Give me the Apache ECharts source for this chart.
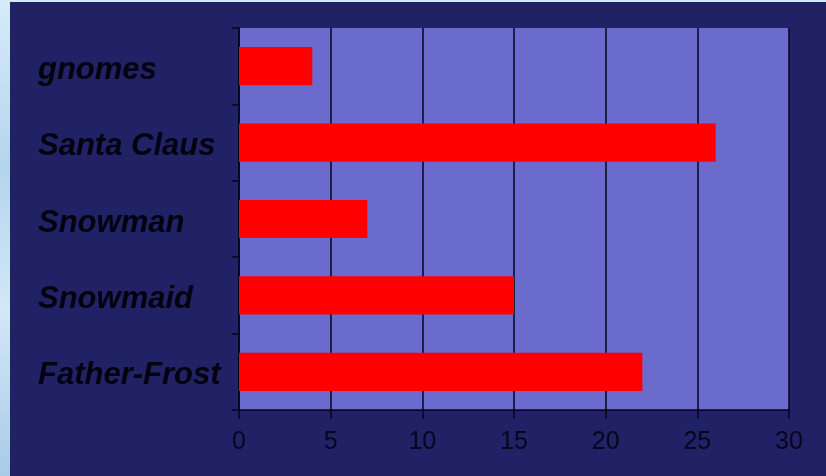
<!DOCTYPE html>
<html>
<head>
<meta charset="utf-8">
<script src="https://cdn.jsdelivr.net/npm/echarts@6/dist/echarts.min.js"></script>
<style>
  html, body { margin: 0; padding: 0; width: 826px; height: 476px; overflow: hidden;
    background: linear-gradient(180deg, #d6ebfa 0%, #b4d5ee 35%, #d2e7f7 65%, #a9cbe8 100%); }
  #chart { position: absolute; left: 10px; top: 2px; width: 816px; height: 474px; background: #212166; }
</style>
</head>
<body>
<div id="chart"></div>
<script>
const categories = ['gnomes', 'Santa Claus', 'Snowman', 'Snowmaid', 'Father-Frost'];
const values = [4, 26, 7, 15, 22];
const xTicks = [0, 5, 10, 15, 20, 25, 30];

const chart = echarts.init(document.getElementById('chart'));
chart.setOption({
  backgroundColor: 'transparent',
  animation: false,
  grid: {
    left: 229, right: 37, top: 26, bottom: 66,
    show: true, backgroundColor: '#6b6bcd', borderWidth: 0
  },
  xAxis: {
    type: 'value', min: xTicks[0], max: xTicks[xTicks.length - 1], interval: 5,
    axisLine: { show: true, lineStyle: { color: '#05051a', width: 1.5 } },
    axisTick: { show: true, length: 9, lineStyle: { color: '#05051a', width: 1.5 } },
    splitLine: { show: true, lineStyle: { color: '#05051a', width: 1.5 } },
    axisLabel: { color: '#06061c', fontFamily: 'Liberation Sans, Arial, sans-serif', fontSize: 25, margin: 20 }
  },
  yAxis: {
    type: 'category', data: categories, inverse: true,
    axisLine: { show: true, lineStyle: { color: '#05051a', width: 1.5 } },
    axisTick: { show: true, length: 7, alignWithLabel: false, lineStyle: { color: '#05051a', width: 1.5 } },
    axisLabel: {
      align: 'left', margin: 201,
      formatter: '{a|{value}}',
      rich: {
        a: {
          color: '#03030f', fontFamily: 'Liberation Sans, Arial, sans-serif', fontSize: 31,
          fontWeight: 'bold', fontStyle: 'italic', padding: [8, 0, 0, 0]
        }
      }
    }
  },
  series: [{
    type: 'bar', data: values, barCategoryGap: '50%',
    itemStyle: { color: '#ff0000' }
  }]
});
</script>
</body>
</html>
